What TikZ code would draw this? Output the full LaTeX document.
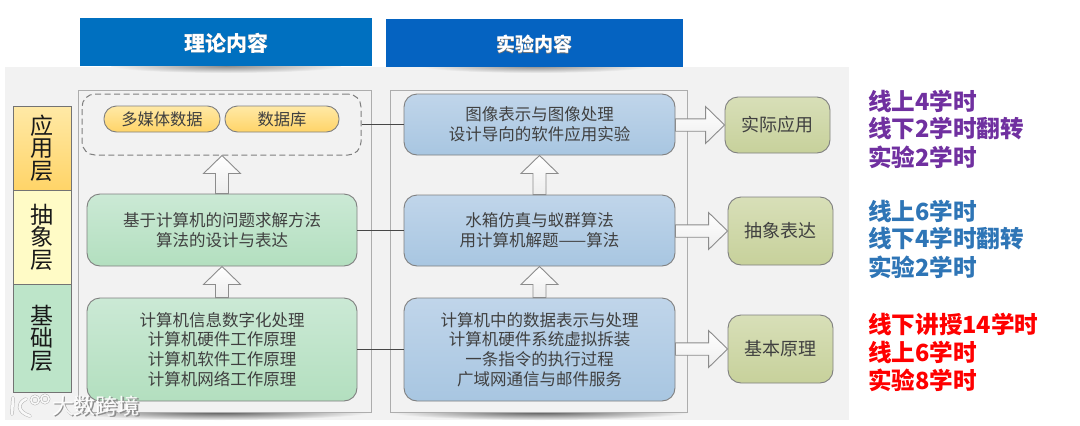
\documentclass[tikz,border=0pt]{standalone}
\usepackage{fontspec}
\setmainfont{Noto Sans CJK SC}
\usetikzlibrary{calc}
\definecolor{bgc}{HTML}{F2F2F2}
\definecolor{cbe9d5}{HTML}{CBE9D5}\definecolor{b3dfbf}{HTML}{B3DFBF}
\definecolor{c0d5ea}{HTML}{C0D5EA}\definecolor{a8c6e1}{HTML}{A8C6E1}
\definecolor{d8dfb8}{HTML}{D8DFB8}\definecolor{c7d19b}{HTML}{C7D19B}
\definecolor{ffe9a6}{HTML}{FFE9A6}\definecolor{ffd468}{HTML}{FFD468}
\definecolor{purp}{HTML}{7030A0}\definecolor{bluet}{HTML}{2E75B6}
\definecolor{headone}{HTML}{0070C0}\definecolor{headtwo}{HTML}{0563C1}
\definecolor{layertwo}{HTML}{FFFBC6}\definecolor{layerthree}{HTML}{BDE5C9}
\newcommand{\fs}[2]{\fontsize{#1}{#2}\selectfont\lineskiplimit=-20pt\relax}
\tikzset{
  x=1pt,y=-1pt,
  box/.style={draw=black!50,line width=0.9pt,rounded corners=13pt,inner sep=0pt,align=center,text=black!75,font=\fs{16.5}{19.7}},
  greenbox/.style={box,top color=cbe9d5,bottom color=b3dfbf},
  bluebox/.style={box,top color=c0d5ea,bottom color=a8c6e1},
  olivebox/.style={box,top color=d8dfb8,bottom color=c7d19b},
  pillbox/.style={box,rounded corners=12.5pt,top color=ffe9a6,bottom color=ffd468,font=\fs{16.3}{19}},
  dashbox/.style={draw=black!50,line width=1pt,dash pattern=on 6pt off 3.5pt,rounded corners=13pt,inner sep=0pt},
  layerbox/.style={draw=black!55,line width=0.8pt,inner sep=0pt,align=center,text=black!90,font=\fs{23}{22.5}},
  headbox/.style={inner sep=0pt,text=white,font=\fs{21}{24}\bfseries},
  framebox/.style={draw=black!32,line width=0.9pt,inner sep=0pt},
  hollow/.style={draw=black!45,line width=0.9pt,top color=white,bottom color=black!7,line join=miter},
  link/.style={draw=black!72,line width=1pt},
  hourtext/.style={inner sep=0pt,anchor=west,font=\fs{23.6}{28}\bfseries},
  logoline/.style={white,opacity=.92,line cap=round},
}
% upward hollow arrow: base node, tip node
\newcommand{\uparr}[2]{\path[hollow] let \p1=(#1.north), \p2=(#2.south) in
  (\x1-6.5pt,\y1) -- (\x1-6.5pt,\y2-18pt) -- (\x1-18.5pt,\y2-18pt) -- (\x1,\y2) -- (\x1+18.5pt,\y2-18pt) -- (\x1+6.5pt,\y2-18pt) -- (\x1+6.5pt,\y1) -- cycle;}
% rightward hollow arrow: from node, to node
\newcommand{\rarr}[2]{\path[hollow] let \p1=(#1.east), \p2=(#2.west) in
  (\x1,\y2+6.2pt) -- (\x2-19pt,\y2+6.2pt) -- (\x2-19pt,\y2+18.5pt) -- (\x2,\y2) -- (\x2-19pt,\y2-18.5pt) -- (\x2-19pt,\y2-6.2pt) -- (\x1,\y2-6.2pt) -- cycle;}
\begin{document}
\begin{tikzpicture}
\useasboundingbox (0,0) rectangle (1080,426);
\fill[white] (0,0) rectangle (1080,426);
\fill[bgc] (5,67) rectangle (849,420);
% soft shadows
\begin{scope}
\clip (5,66) rectangle (849,80);
\shade[inner color=black!45,outer color=bgc] (226,66) ellipse (115 and 7);
\shade[inner color=black!45,outer color=bgc] (535,66) ellipse (115 and 7);
\end{scope}
\begin{scope}
\clip (5,412) rectangle (849,420);
\shade[inner color=black!65,outer color=bgc] (220,412) ellipse (150 and 8);
\shade[inner color=black!65,outer color=bgc] (540,412) ellipse (150 and 8);
\end{scope}
% frames
\node[framebox,minimum width=293pt,minimum height=322pt] (fr1) at (224.5,251) {};
\node[framebox,minimum width=297pt,minimum height=322pt] (fr2) at (538.5,251) {};
% headers
\node[headbox,fill=headone,minimum width=292pt,minimum height=48pt] (h1) at (226,42) {};
\node[headbox,fill=headtwo,minimum width=297pt,minimum height=48pt] (h2) at (534.5,43) {};
\node[inner sep=0pt,text=black!55,font=\fs{21}{24}\bfseries] (h1s) at (226.8,43.8) {理论内容};
\node[headbox] (h1t) at (226,43) {理论内容};
\node[inner sep=0pt,text=black!55,font=\fs{19}{24}\bfseries] (h2s) at (534.8,44.8) {实验内容};
\node[headbox,font=\fs{19}{24}\bfseries] (h2t) at (534,44) {实验内容};
% layers
\node[layerbox,top color=ffe9a6,bottom color=ffd468,minimum width=58pt,minimum height=84pt] (l1) at (42,148) {应\\用\\层};
\node[layerbox,fill=layertwo,minimum width=58pt,minimum height=94pt] (l2) at (42,237) {抽\\象\\层};
\node[layerbox,fill=layerthree,minimum width=58pt,minimum height=108pt] (l3) at (42,338) {基\\础\\层};
% boxes
\node[dashbox,minimum width=279pt,minimum height=61pt] (dash) at (221.5,124.5) {};
\node[greenbox,minimum width=270pt,minimum height=72pt] (g2) at (222,230) {基于计算机的问题求解方法\\算法的设计与表达};
\node[greenbox,minimum width=270pt,minimum height=103pt] (g3) at (222,349.5) {计算机信息数字化处理\\计算机硬件工作原理\\计算机软件工作原理\\计算机网络工作原理};
\node[bluebox,minimum width=271pt,minimum height=61pt] (b1) at (539.5,124.5) {图像表示与图像处理\\设计导向的软件应用实验};
\node[bluebox,minimum width=271pt,minimum height=71pt] (b2) at (539.5,230.5) {水箱仿真与蚁群算法\\用计算机解题——算法};
\node[bluebox,minimum width=271pt,minimum height=103pt] (b3) at (539.5,349.5) {计算机中的数据表示与处理\\计算机硬件系统虚拟拆装\\一条指令的执行过程\\广域网通信与邮件服务};
\node[olivebox,minimum width=105pt,minimum height=56pt,font=\fs{18}{20}] (o1) at (777.5,125) {实际应用};
\node[olivebox,minimum width=105pt,minimum height=68pt,font=\fs{18}{20}] (o2) at (780.5,231) {抽象表达};
\node[olivebox,minimum width=105pt,minimum height=68pt,font=\fs{18}{20}] (o3) at (780.5,349) {基本原理};
\node[pillbox,minimum width=116pt,minimum height=26pt] (p1) at (162,119) {多媒体数据};
\node[pillbox,minimum width=114pt,minimum height=26pt] (p2) at (282,119) {数据库};
% hollow arrows
\uparr{g2}{dash}
\uparr{g3}{g2}
\uparr{b2}{b1}
\uparr{b3}{b2}
\rarr{b1}{o1}
\rarr{b2}{o2}
\rarr{b3}{o3}
% links
\draw[link] (dash.east) -- (b1.west);
\draw[link] (g2.east) -- (g2.east -| b2.west);
\draw[link] (g3.east) -- (b3.west);
% hours
\node[hourtext,text=purp] (t1) at (868,101) {线上4学时};
\node[hourtext,text=purp] (t2) at (868,129) {线下2学时翻转};
\node[hourtext,text=purp] (t3) at (868,157) {实验2学时};
\node[hourtext,text=bluet] (t4) at (868,211) {线上6学时};
\node[hourtext,text=bluet] (t5) at (868,239) {线下4学时翻转};
\node[hourtext,text=bluet] (t6) at (868,267) {实验2学时};
\node[hourtext,text=red] (t7) at (868,324) {线下讲授14学时};
\node[hourtext,text=red] (t8) at (868,352) {线上6学时};
\node[hourtext,text=red] (t9) at (868,380) {实验8学时};
% watermark
\node[inner sep=0pt,text=black!45,font=\fs{22}{24}] (w0) at (97,406.8) {大数跨境};
\node[inner sep=0pt,text=white,opacity=0.92,font=\fs{22}{24}] (w) at (96,406) {大数跨境};
\draw[black!30,line width=3.6pt,line cap=round] (13,398) -- (12,414) (26,399) .. controls (17,403) and (17,412) .. (30,416);
\draw[black!30,line width=2.6pt] (35,400) circle (4) (45,399) circle (4);
\draw[logoline,line width=2.6pt] (13,398) -- (12,414) (26,399) .. controls (17,403) and (17,412) .. (30,416);
\draw[logoline,line width=1.6pt] (35,400) circle (4) (45,399) circle (4);
\end{tikzpicture}
\end{document}
